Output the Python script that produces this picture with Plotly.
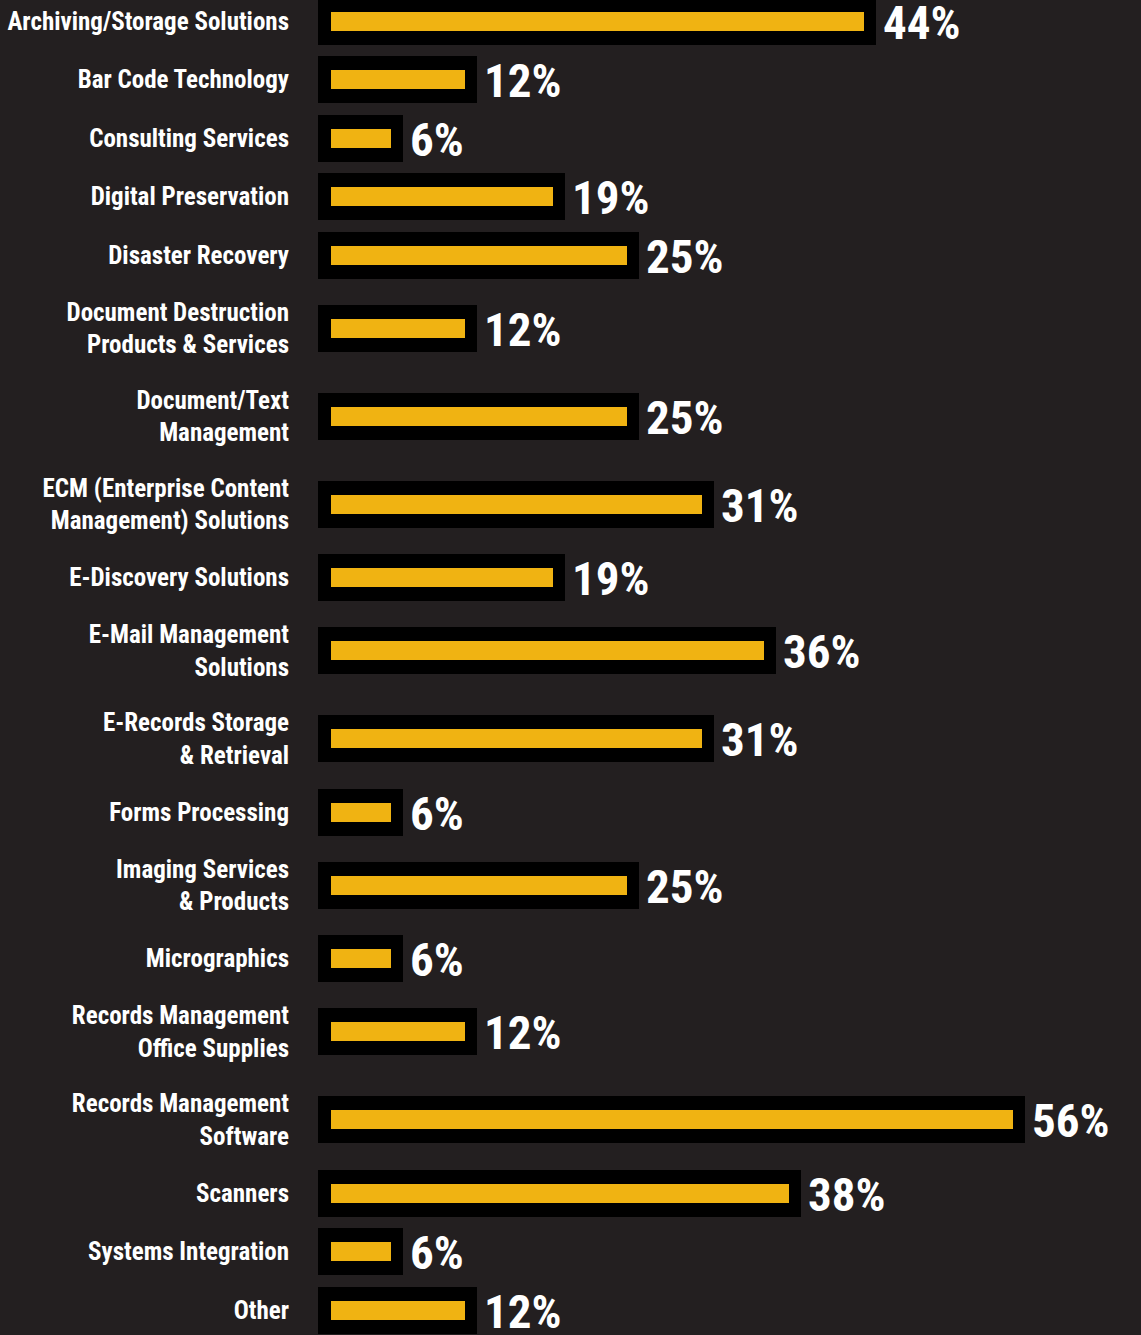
import plotly.graph_objects as go

categories = [
    "Archiving/Storage Solutions",
    "Bar Code Technology",
    "Consulting Services",
    "Digital Preservation",
    "Disaster Recovery",
    "Document Destruction<br>Products & Services",
    "Document/Text<br>Management",
    "ECM (Enterprise Content<br>Management) Solutions",
    "E-Discovery Solutions",
    "E-Mail Management<br>Solutions",
    "E-Records Storage<br>& Retrieval",
    "Forms Processing",
    "Imaging Services<br>& Products",
    "Micrographics",
    "Records Management<br>Office Supplies",
    "Records Management<br>Software",
    "Scanners",
    "Systems Integration",
    "Other",
]
values = [44, 12, 6, 19, 25, 12, 25, 31, 19, 36, 31, 6, 25, 6, 12, 56, 38, 6, 12]
value_labels = [f"{v}%" for v in values]

# ---- styling / layout constants ----
W, H = 1141, 1335
BG = "#231f20"
BLACK = "#000000"
YELLOW = "#f0b312"
PX_PER_UNIT = 12.45           # pixels per percent
ZERO_PX = 316.0               # pixel where 0 % sits
FRAME_LEFT_PX = 318           # left edge of black frame
INNER_LEFT_PX = 331           # left edge of yellow bar
PAD_R_PX = 12                 # black frame beyond yellow end
ROW_SINGLE, ROW_DOUBLE = 58.5, 88.0
FRAME_H, INNER_H = 47, 19
MARGIN_L = FRAME_LEFT_PX
FONT = "Roboto Condensed, DejaVu Sans Condensed, sans-serif"

# row centres derived from label line counts (1 unit == 1 px)
heights = [ROW_DOUBLE if "<br>" in c else ROW_SINGLE for c in categories]
centers = []
acc = 0.0
for h in heights:
    centers.append(acc + h / 2)
    acc += h
top_offset = centers[0] - 21

x0 = (MARGIN_L - ZERO_PX) / PX_PER_UNIT          # data value at plot left edge
x1 = x0 + (W - MARGIN_L) / PX_PER_UNIT
inner_base = (INNER_LEFT_PX - ZERO_PX) / PX_PER_UNIT
pad_r = PAD_R_PX / PX_PER_UNIT

fig = go.Figure()
fig.add_trace(go.Bar(
    y=centers, x=[v + pad_r - x0 for v in values], base=[x0] * len(values),
    orientation="h", width=FRAME_H, marker=dict(color=BLACK, line=dict(width=0)),
    hoverinfo="skip", showlegend=False,
))
fig.add_trace(go.Bar(
    y=centers, x=[v - inner_base for v in values], base=[inner_base] * len(values),
    orientation="h", width=INNER_H, marker=dict(color=YELLOW, line=dict(width=0)),
    hoverinfo="skip", showlegend=False,
))

for c, v, t in zip(centers, values, value_labels):
    fig.add_annotation(
        x=v + pad_r, y=c, text=t, showarrow=False, xanchor="left", yanchor="middle",
        xshift=5, yshift=-1, font=dict(family=FONT, size=47, color="white", weight="bold"),
    )

fig.update_layout(
    width=W, height=H,
    paper_bgcolor=BG, plot_bgcolor=BG,
    margin=dict(l=MARGIN_L, r=0, t=0, b=0, autoexpand=False),
    barmode="overlay", bargap=0,
    xaxis=dict(range=[x0, x1], visible=False, fixedrange=True, automargin=False),
    yaxis=dict(
        range=[top_offset + H, top_offset],
        tickvals=centers, ticktext=categories,
        showgrid=False, zeroline=False, showline=False, ticks="",
        ticklabelstandoff=28, automargin=False, fixedrange=True,
        tickfont=dict(family=FONT, size=25, color="white", weight="bold"),
    ),
    showlegend=False,
)

fig.write_html("out.html", config={"displayModeBar": False},
               post_script="document.body.style.margin='0';")
